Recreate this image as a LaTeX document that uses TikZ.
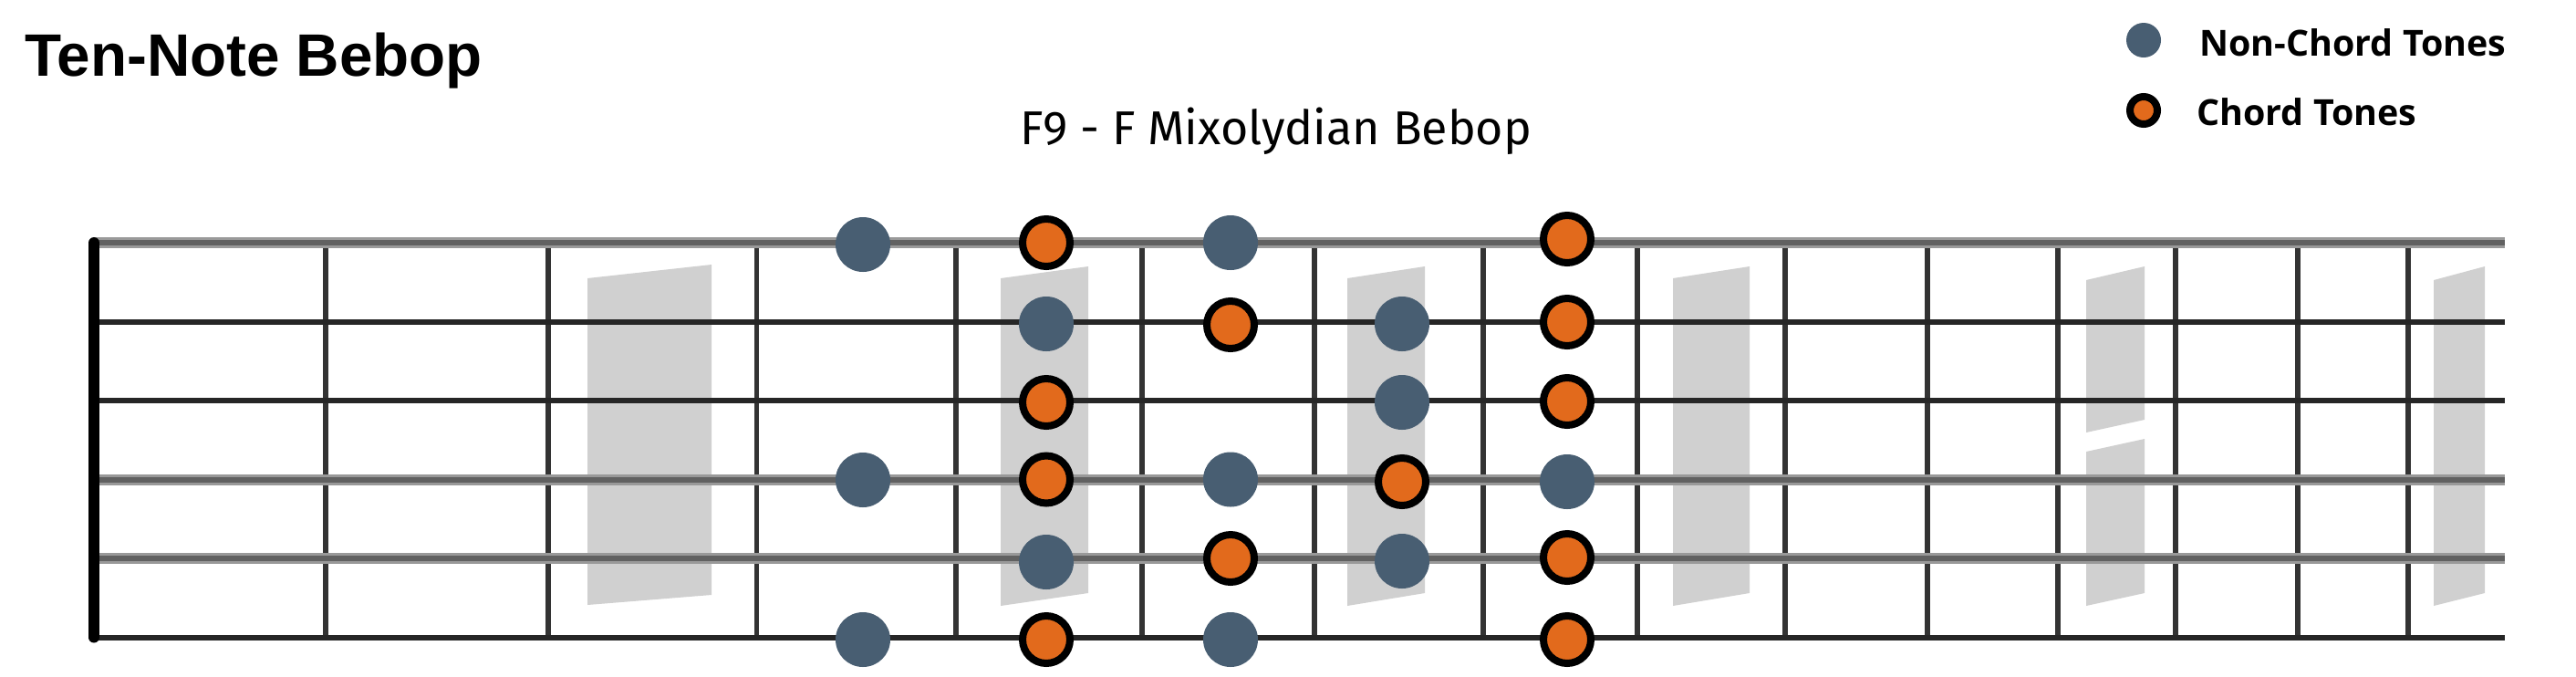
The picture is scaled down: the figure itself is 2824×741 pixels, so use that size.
\documentclass[tikz,border=0pt]{standalone}
\usepackage{fontspec}
\usetikzlibrary{positioning}
\newfontfamily\titlefont{Liberation Sans}
\newfontfamily\subfont{Fira Sans}
\newfontfamily\legendfont{Open Sans}
\definecolor{tonegray}{RGB}{72,94,114}
\definecolor{toneorange}{RGB}{226,106,28}
\definecolor{inlaygray}{RGB}{208,208,208}

\begin{document}
\begin{tikzpicture}[
  x=0.5pt,y=-0.5pt,
  nct/.style={circle,fill=tonegray,inner sep=0pt,minimum size=30pt},
  ct/.style={circle,fill=toneorange,draw=black,line width=4pt,inner sep=0pt,minimum size=26pt},
  inlay/.style={fill=inlaygray},
  fretline/.style={draw=black!80,line width=2.6pt},
  nutline/.style={draw=black,line width=6pt,line cap=round},
  strhalo/.style={draw=black!40,line width=6pt},
  strcore/.style={draw=black!62,line width=3pt},
  strsharp/.style={draw=black!85,line width=3pt},
  legtext/.style={font=\legendfont\bfseries\fontsize{19.7}{24}\selectfont,anchor=base west,inner sep=0pt}
]
\useasboundingbox (0,0) rectangle (2824,741);

% TITLES
\node[anchor=base west,inner sep=0pt,font=\titlefont\bfseries\fontsize{32.8}{36}\selectfont] (title) at (27,83) {Ten-Note Bebop};
\node[anchor=base,inner sep=0pt,font=\subfont\fontsize{26}{30}\selectfont] (subtitle) at (1399,158) {F9 - F Mixolydian Bebop};

% LEGEND
\node[nct,minimum size=19pt] (legnct) at (2350,44) {};
\node[ct,minimum size=15pt] (legct) at (2350,121) {};
\node[legtext] (legnctlab) at (2411,61) {Non-Chord Tones};
\node[legtext] (legctlab) at (2408,137) {Chord Tones};

% INLAYS
\fill[inlay] (644,305) -- (780,290) -- (780,652) -- (644,663) -- cycle;
\fill[inlay] (1097,305) -- (1193,292) -- (1193,650) -- (1097,664) -- cycle;
\fill[inlay] (1477,305) -- (1562,292) -- (1562,650) -- (1477,664) -- cycle;
\fill[inlay] (1834,305) -- (1918,292) -- (1918,650) -- (1834,664) -- cycle;
\fill[inlay] (2287,307) -- (2351,292) -- (2351,460) -- (2287,474) -- cycle;
\fill[inlay] (2287,495) -- (2351,481) -- (2351,650) -- (2287,664) -- cycle;
\fill[inlay] (2668,307) -- (2724,292) -- (2724,650) -- (2668,664) -- cycle;

% FRETBOARD
\foreach \x in {357,601,829.5,1048,1252,1441,1626,1795,1957,2113,2256,2385,2519,2640}
  \draw[fretline] (\x,266) -- (\x,698.5);
\foreach \y in {266,525.5,612} {
  \draw[strhalo] (103,\y) -- (2746,\y);
  \draw[strcore] (103,\y) -- (2746,\y);
}
\foreach \y in {352.5,439,698.5}
  \draw[strsharp] (103,\y) -- (2746,\y);
\draw[nutline] (103,266) -- (103,698.5);

% DOTS: column by column
\node[nct] (a1) at (946,268) {};
\node[nct] (a4) at (946,526) {};
\node[nct] (a6) at (946,701) {};

\node[ct]  (b1) at (1147,266) {};
\node[nct] (b2) at (1147,355) {};
\node[ct]  (b3) at (1147,441) {};
\node[ct]  (b4) at (1147,525.5) {};
\node[nct] (b5) at (1147,616) {};
\node[ct]  (b6) at (1147,701) {};

\node[nct] (c1) at (1349,266) {};
\node[ct]  (c2) at (1349,356) {};
\node[nct] (c4) at (1349,525.5) {};
\node[ct]  (c5) at (1349,612) {};
\node[nct] (c6) at (1349,701) {};

\node[nct] (d2) at (1537,355) {};
\node[nct] (d3) at (1537,441) {};
\node[ct]  (d4) at (1537,528) {};
\node[nct] (d5) at (1537,615) {};

\node[ct]  (e1) at (1718,262) {};
\node[ct]  (e2) at (1718,353) {};
\node[ct]  (e3) at (1718,440) {};
\node[nct] (e4) at (1718,528) {};
\node[ct]  (e5) at (1718,611) {};
\node[ct]  (e6) at (1718,701) {};

\end{tikzpicture}
\end{document}
